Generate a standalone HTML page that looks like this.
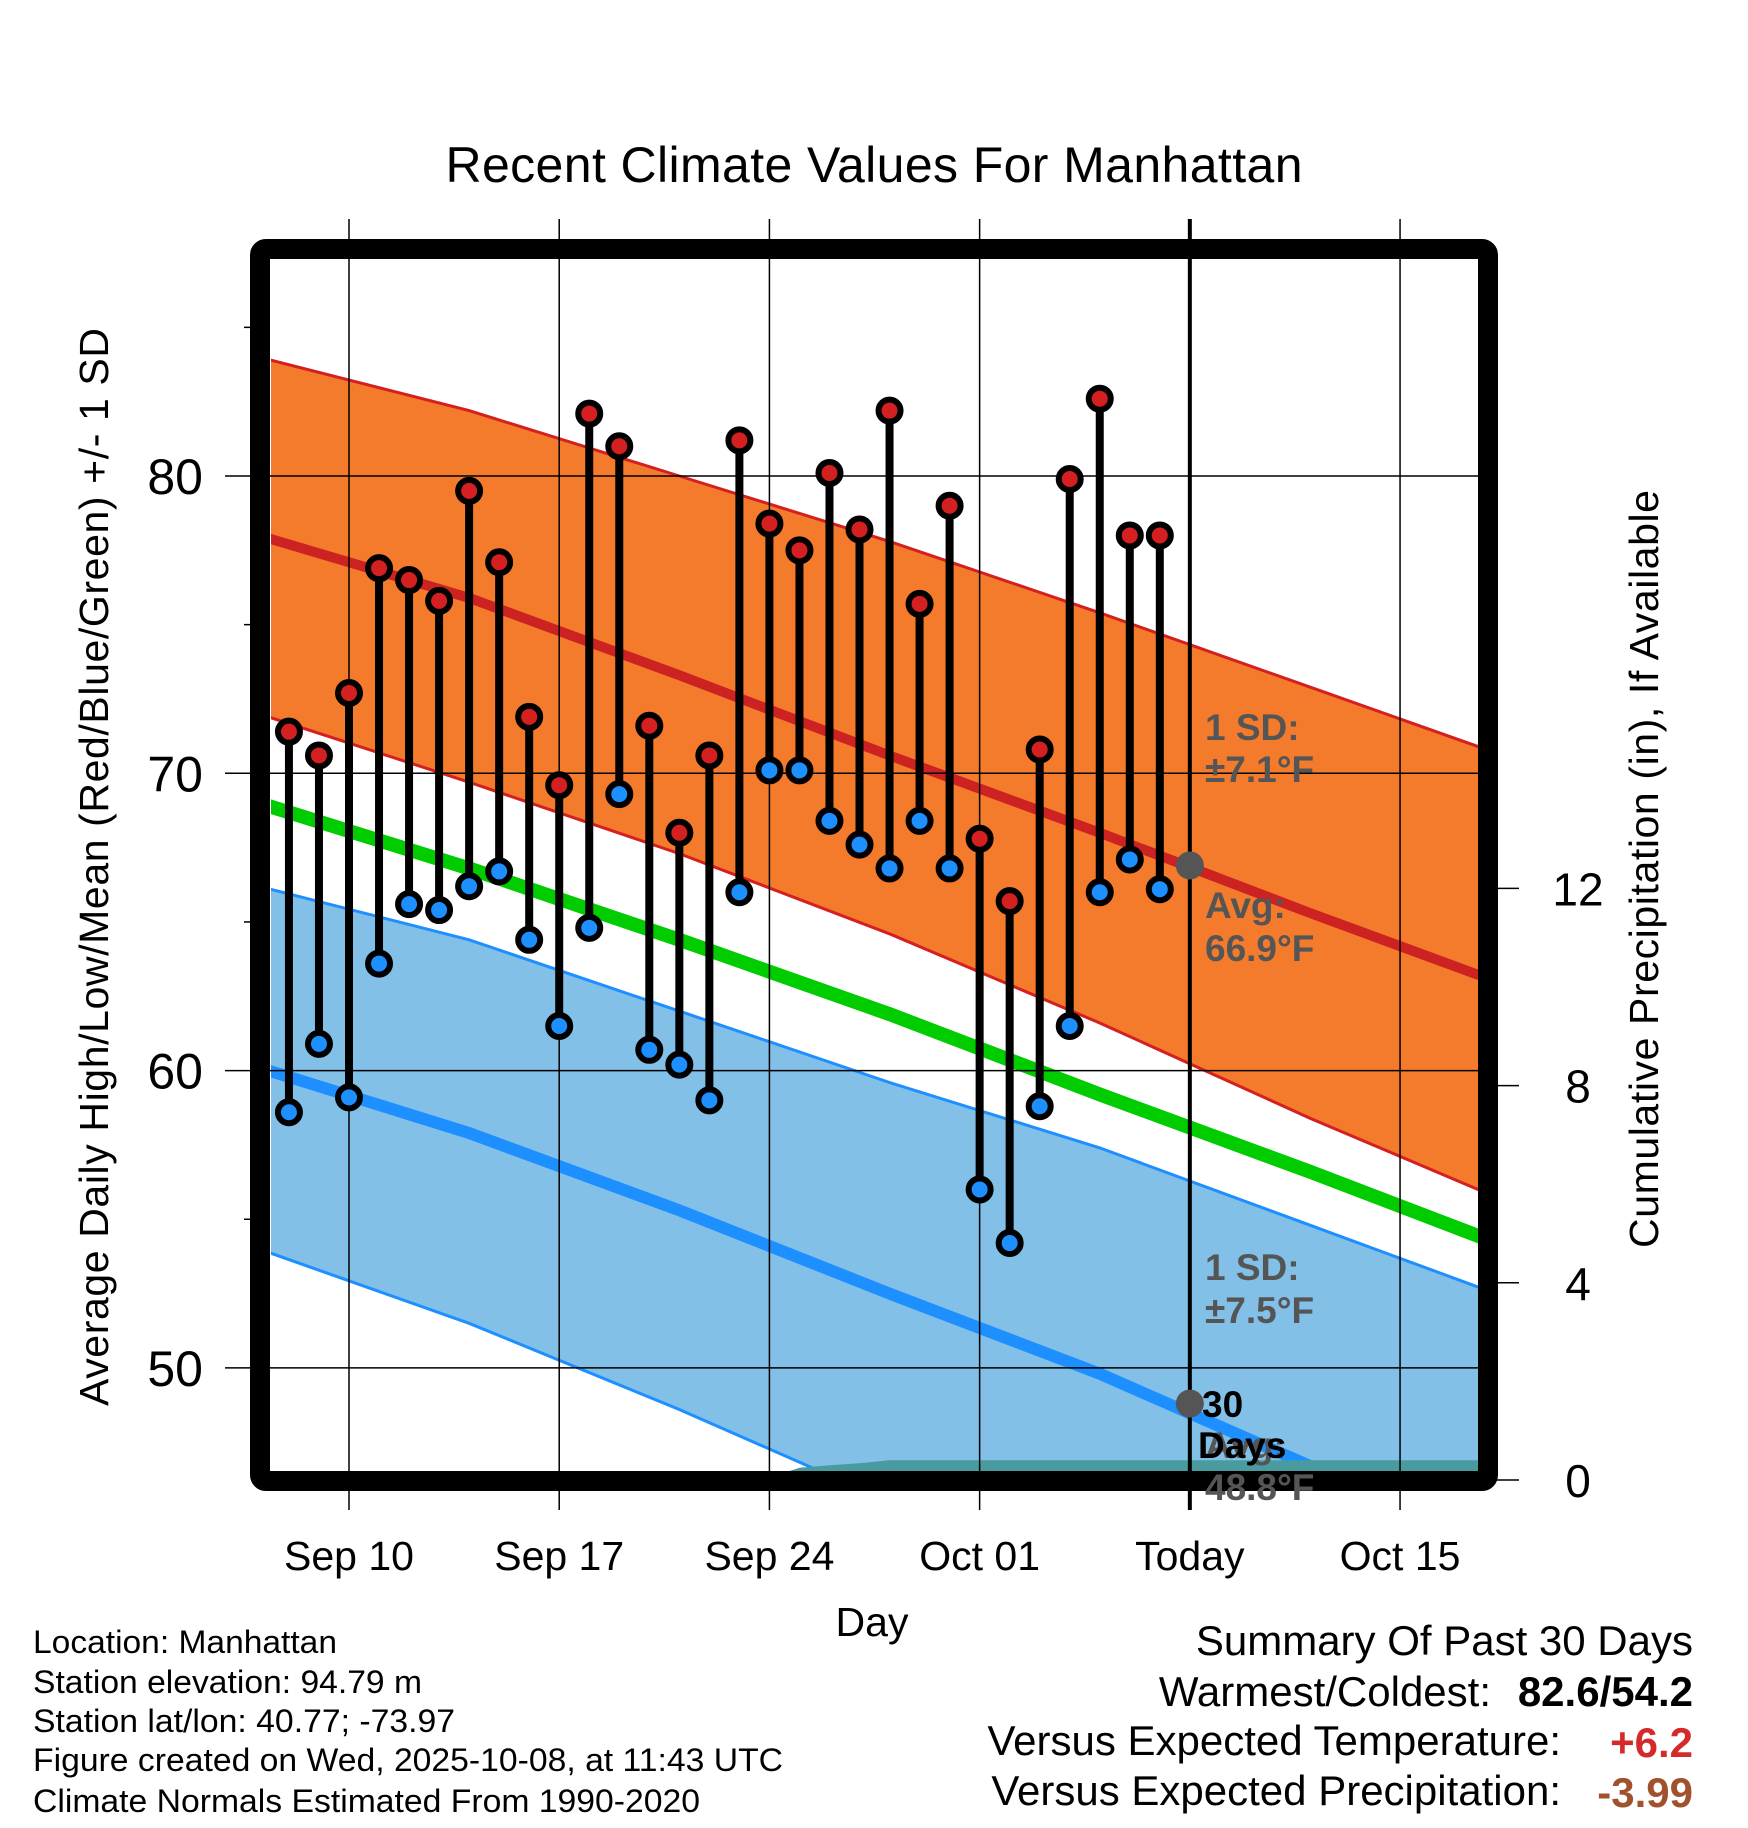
<!DOCTYPE html>
<html><head><meta charset="utf-8"><style>
html,body{margin:0;padding:0;background:#fff}
svg{display:block;font-family:"Liberation Sans",Arial,sans-serif}
</style></head><body>
<svg id="chart" width="1748" height="1828" viewBox="0 0 1748 1828" xmlns="http://www.w3.org/2000/svg">
<defs><clipPath id="plotclip"><rect x="271" y="260" width="1207" height="1212"/></clipPath></defs>
<rect width="1748" height="1828" fill="#fff"/>
<text x="874" y="182" font-size="50" text-anchor="middle" textLength="857">Recent Climate Values For Manhattan</text>
<g id="bands" clip-path="url(#plotclip)"></g>
<g id="grid"></g>
<g id="marks"></g>
<g id="frame"></g>
<g id="labels"></g>
<text transform="translate(108,867) rotate(-90)" font-size="41" text-anchor="middle" textLength="1078">Average Daily High/Low/Mean (Red/Blue/Green) +/- 1 SD</text>
<text transform="translate(1658,869) rotate(-90)" font-size="41" text-anchor="middle" textLength="758">Cumulative Precipitation (in), If Available</text>
<text x="872" y="1636" font-size="41" text-anchor="middle">Day</text>
<g font-size="32">
<text x="33" y="1653" textLength="304" lengthAdjust="spacingAndGlyphs">Location: Manhattan</text>
<text x="33" y="1693" textLength="389" lengthAdjust="spacingAndGlyphs">Station elevation: 94.79 m</text>
<text x="33" y="1732" textLength="422" lengthAdjust="spacingAndGlyphs">Station lat/lon: 40.77; -73.97</text>
<text x="33" y="1771" textLength="750" lengthAdjust="spacingAndGlyphs">Figure created on Wed, 2025-10-08, at 11:43 UTC</text>
<text x="33" y="1812" textLength="667" lengthAdjust="spacingAndGlyphs">Climate Normals Estimated From 1990-2020</text>
</g>
<g font-size="42">
<text x="1693" y="1655" text-anchor="end">Summary Of Past 30 Days</text>
<text x="1491" y="1706" text-anchor="end">Warmest/Coldest:</text>
<text x="1693" y="1706" text-anchor="end" font-weight="bold">82.6/54.2</text>
<text x="1561" y="1755" text-anchor="end">Versus Expected Temperature:</text>
<text x="1693" y="1757" text-anchor="end" font-weight="bold" fill="#d42a2a">+6.2</text>
<text x="1561" y="1805" text-anchor="end">Versus Expected Precipitation:</text>
<text x="1693" y="1807" text-anchor="end" font-weight="bold" fill="#a0522d">-3.99</text>
</g>
</svg>
<script>
// data (day offsets from Sep 10)
const obsDays = [-2,-1,0,1,2,3,4,5,6,7,8,9,10,11,12,13,14,15,16,17,18,19,20,21,22,23,24,25,26,27];
const highs = [71.4,70.6,72.7,76.9,76.5,75.8,79.5,77.1,71.9,69.6,82.1,81.0,71.6,68.0,70.6,81.2,78.4,77.5,80.1,78.2,82.2,75.7,79.0,67.8,65.7,70.8,79.9,82.6,78.0,78.0];
const lows = [58.6,60.9,59.1,63.6,65.6,65.4,66.2,66.7,64.4,61.5,64.8,69.3,60.7,60.2,59.0,66.0,70.1,70.1,68.4,67.6,66.8,68.4,66.8,56.0,54.2,58.8,61.5,66.0,67.1,66.1];
const precip = [0,0,0,0,0,0,0,0,0,0,0,0,0,0,0,0,0.05,0.25,0.3,0.34,0.4,0.4,0.4,0.4,0.4,0.4,0.4,0.4,0.4,0.4];
const normDays = [-3,4,11,18,25,32,39];
const highAvg = [78.0,75.9,73.3,70.6,68.0,65.3,62.7];
const highUpper = [84.0,82.2,80.0,77.8,75.4,72.9,70.4];
const highLower = [72.0,69.7,67.3,64.6,61.6,58.4,55.4];
const meanAvg = [69.0,66.8,64.4,61.9,59.2,56.6,53.9];
const lowAvg = [60.1,57.9,55.3,52.5,49.8,46.7,43.6];
const lowUpper = [66.2,64.4,62.0,59.6,57.4,54.8,52.2];
const lowLower = [54.0,51.5,48.6,45.5,42.5,39.5,36.5];
const xTickDays = [0,7,14,21,28,35];
const xTickLabels = ["Sep 10","Sep 17","Sep 24","Oct 01","Today","Oct 15"];
const yTicks = [50,60,70,80];
const yMinor = [55,65,75,85];
const y2Ticks = [0,4,8,12];
const todayDay = 28;

const NS="http://www.w3.org/2000/svg";
const X = d => 349 + 30.03*d;
const Y = v => 476 + (80 - v)*29.73;
const Y2 = p => 1480 - p*49.3;
function mk(parent, tag, attrs){const e=document.createElementNS(NS,tag);for(const k in attrs)e.setAttribute(k,attrs[k]);document.getElementById(parent).appendChild(e);return e;}
function pts(days, vals){return days.map((d,i)=>X(d).toFixed(1)+","+Y(vals[i]).toFixed(1));}
function band(up, lo, fill, edge, name){
  const p = pts(normDays, up).concat(pts(normDays, lo).reverse());
  let e = mk('bands','polygon',{points:p.join(' '),fill:fill});
  
  
  e = mk('bands','polyline',{points:pts(normDays,up).join(' '),fill:'none',stroke:edge,'stroke-width':3});
  
  
  e = mk('bands','polyline',{points:pts(normDays,lo).join(' '),fill:'none',stroke:edge,'stroke-width':3});
  
  
}
band(highUpper, highLower, '#f47a2c', '#d42020', 'high-sd');
band(lowUpper, lowLower, '#82c0e8', '#1e8fff', 'low-sd');
function line(vals, color, w, name){
  const e = mk('bands','polyline',{points:pts(normDays,vals).join(' '),fill:'none',stroke:color,'stroke-width':w});
  
  
}
line(meanAvg,'#00cc00',14,'mean-normal-line');
line(highAvg,'#cc2222',10,'high-normal-line');
line(lowAvg,'#1e8fff',12,'low-normal-line');
// precip
{
  const pp = obsDays.map((d,i)=>X(d).toFixed(1)+","+Y2(precip[i]).toFixed(1));
  pp.push(X(40)+","+Y2(precip[precip.length-1]));
  pp.push(X(40)+","+Y2(0)); pp.push(X(obsDays[0])+","+Y2(0));
  const e = mk('bands','polygon',{points:pp.join(' '),fill:'#4a9ba0'});
  
  
}
// grid
xTickDays.forEach((d,i)=>{
  const isToday = d===todayDay;
  const e = mk('grid','line',{x1:X(d),x2:X(d),y1:219,y2:1510,stroke:'#000','stroke-width':isToday?4:1.5});
  
  
  const t = mk('labels','text',{x:X(d),y:1570,'font-size':41,'text-anchor':'middle'});
  t.textContent = xTickLabels[i];
  
  
});
yTicks.forEach(v=>{
  const e = mk('grid','line',{x1:225,x2:1478,y1:Y(v),y2:Y(v),stroke:'#000','stroke-width':1.5});
  
  
  const t = mk('labels','text',{x:203,y:Y(v)+18,'font-size':50,'text-anchor':'end'});
  t.textContent = v;
  
  
});
yMinor.forEach(v=>{
  const e = mk('grid','line',{x1:244,x2:255,y1:Y(v),y2:Y(v),stroke:'#000','stroke-width':1.5});
  
  
});
y2Ticks.forEach(p=>{
  const e = mk('grid','line',{x1:1495,x2:1519,y1:Y2(p),y2:Y2(p),stroke:'#000','stroke-width':1.5});
  
  
  const t = mk('labels','text',{x:1578,y:Y2(p)+17,'font-size':46,'text-anchor':'middle'});
  t.textContent = p;
  
  
});
// stems and dots
obsDays.forEach((d,i)=>{
  const e = mk('marks','line',{x1:X(d),x2:X(d),y1:Y(highs[i]),y2:Y(lows[i]),stroke:'#000','stroke-width':8});
  
  
});
obsDays.forEach((d,i)=>{
  let c = mk('marks','circle',{cx:X(d),cy:Y(highs[i]),r:11,fill:'#d42020',stroke:'#000','stroke-width':6});
  
  
  c = mk('marks','circle',{cx:X(d),cy:Y(lows[i]),r:11,fill:'#1e8fff',stroke:'#000','stroke-width':6});
  
  
});
// today markers
{
  let c = mk('marks','circle',{cx:X(todayDay),cy:Y(66.9),r:14,fill:'#555'});
  
  
  c = mk('marks','circle',{cx:X(todayDay),cy:Y(48.8),r:14,fill:'#555'});
  
  
}
// frame
{
  const f = mk('frame','rect',{x:260,y:249,width:1228,height:1232,rx:6,fill:'none',stroke:'#000','stroke-width':20});
  
  
}
// annotations
const ann = [
  [1205,740,'1 SD:','#555','high-sd-label'],[1205,782,'±7.1°F','#555','high-sd-value'],
  [1205,918,'Avg:','#555','high-avg-label'],[1205,961,'66.9°F','#555','high-avg-value'],
  [1205,1280,'1 SD:','#555','low-sd-label'],[1205,1323,'±7.5°F','#555','low-sd-value'],
  [1205,1458,'Avg:','#555','low-avg-label'],[1205,1500,'48.8°F','#555','low-avg-value'],
  [1202,1417,'30','#000','days-count-label'],[1198,1458,'Days','#000','days-word-label']
];
ann.forEach(a=>{
  const t = mk('labels','text',{x:a[0],y:a[1],'font-size':37,'font-weight':'bold',fill:a[3]});
  t.textContent = a[2];
  
  
});
</script>
</body></html>
